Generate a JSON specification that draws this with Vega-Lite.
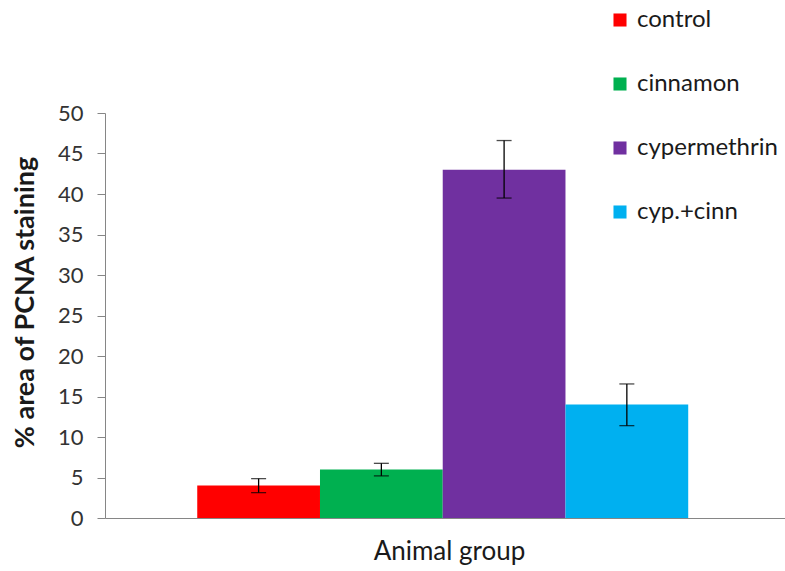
{
  "$schema": "https://vega.github.io/schema/vega-lite/v6.json",
  "width": 680,
  "height": 405,
  "autosize": "none",
  "padding": {"left": 105, "top": 113, "right": 0, "bottom": 53},
  "background": "white",
  "config": {
    "view": {"stroke": null},
    "font": "Lato",
    "axis": {"grid": false, "domainColor": "#868686", "tickColor": "#868686", "labelColor": "#333333", "titleColor": "#1a1a1a"}
  },
  "data": {
    "values": [
      {"cat": "Animal group", "group": "control", "value": 4, "lo": 3.13, "hi": 4.86},
      {"cat": "Animal group", "group": "cinnamon", "value": 6, "lo": 5.2, "hi": 6.75},
      {"cat": "Animal group", "group": "cypermethrin", "value": 43, "lo": 39.5, "hi": 46.6},
      {"cat": "Animal group", "group": "cyp.+cinn", "value": 14, "lo": 11.4, "hi": 16.55}
    ]
  },
  "encoding": {
    "x": {
      "field": "cat", "type": "nominal",
      "scale": {"paddingInner": 0, "paddingOuter": 0.1925, "align": 0.488},
      "axis": {"title": "Animal group", "labels": false, "ticks": false, "titleFontSize": 26, "titleFontWeight": "normal", "titlePadding": 20, "titleX": 344}
    },
    "xOffset": {
      "field": "group", "type": "nominal",
      "sort": ["control", "cinnamon", "cypermethrin", "cyp.+cinn"],
      "scale": {"paddingInner": 0, "paddingOuter": 0}
    }
  },
  "layer": [
    {
      "mark": {"type": "bar"},
      "encoding": {
        "y": {
          "field": "value", "type": "quantitative",
          "scale": {"domain": [0, 50], "nice": false},
          "axis": {
            "title": "% area of PCNA staining",
            "values": [0, 5, 10, 15, 20, 25, 30, 35, 40, 45, 50],
            "labelFontSize": 22, "tickSize": 8, "labelPadding": 14,
            "titleFontSize": 27, "titleFontWeight": "bold",
            "titleX": -80, "titleY": 189, "titleAnchor": "middle", "titleBaseline": "middle", "titleAlign": "center"
          }
        },
        "color": {
          "field": "group", "type": "nominal",
          "sort": ["control", "cinnamon", "cypermethrin", "cyp.+cinn"],
          "scale": {
            "domain": ["control", "cinnamon", "cypermethrin", "cyp.+cinn"],
            "range": ["#FF0000", "#00B050", "#7030A0", "#00B0F0"]
          },
          "legend": {
            "title": null,
            "orient": "none",
            "legendX": 503,
            "legendY": -105,
            "symbolType": "square",
            "symbolSize": 170,
            "symbolStrokeWidth": 0,
            "labelFontSize": 24,
            "labelColor": "#1a1a1a",
            "labelOffset": 5,
            "rowPadding": 40
          }
        }
      }
    },
    {
      "mark": {"type": "rule", "color": "black", "strokeWidth": 1.3},
      "encoding": {
        "y": {"field": "lo", "type": "quantitative"},
        "y2": {"field": "hi"}
      }
    },
    {
      "mark": {"type": "tick", "color": "black", "thickness": 1.3, "size": 15},
      "encoding": {"y": {"field": "lo", "type": "quantitative"}}
    },
    {
      "mark": {"type": "tick", "color": "black", "thickness": 1.3, "size": 15},
      "encoding": {"y": {"field": "hi", "type": "quantitative"}}
    }
  ]
}
